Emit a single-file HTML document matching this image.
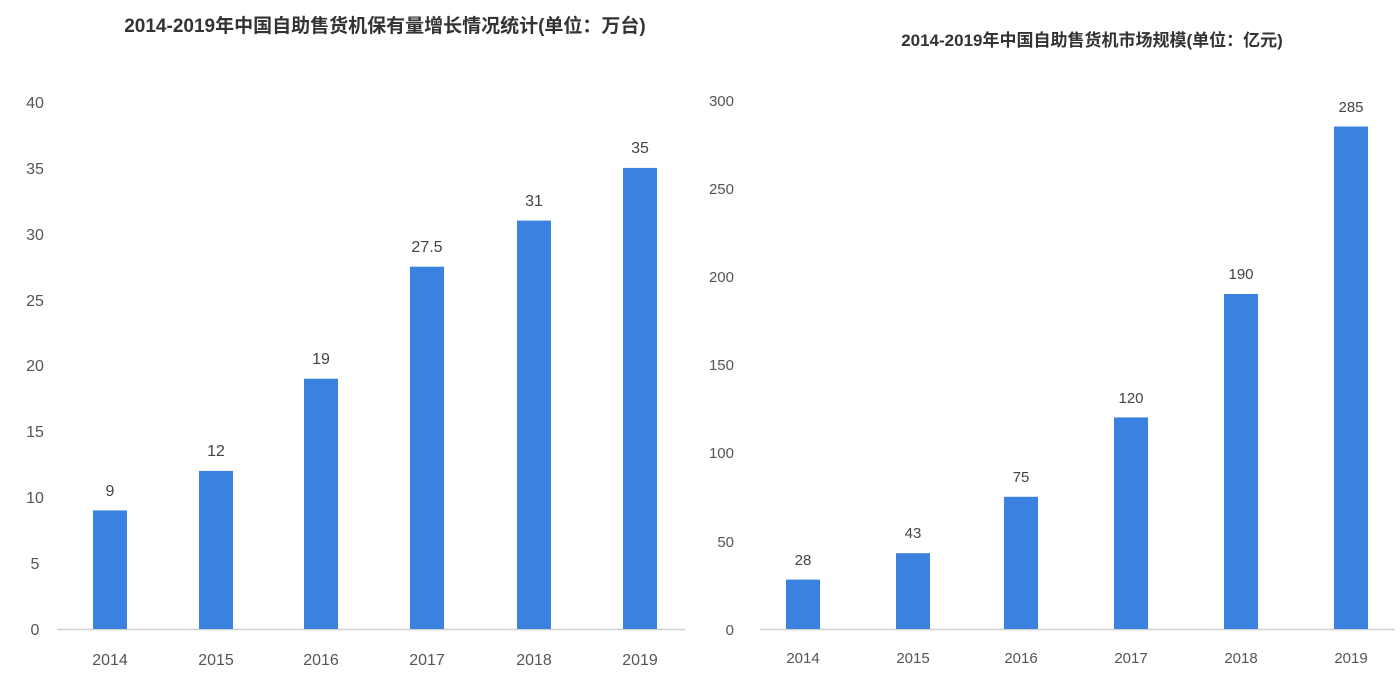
<!DOCTYPE html>
<html><head><meta charset="utf-8"><style>
html,body{margin:0;padding:0;background:#fff;}
svg{display:block;font-family:"Liberation Sans","Noto Sans CJK SC",sans-serif;}
</style></head><body>
<svg width="1400" height="700" viewBox="0 0 1400 700" xmlns="http://www.w3.org/2000/svg">
<rect width="1400" height="700" fill="#fff"/>
<text x="385" y="32" font-size="19" font-weight="bold" text-anchor="middle" fill="#333">2014-2019年中国自助售货机保有量增长情况统计(单位：万台)</text>
<text x="1092" y="46" font-size="17" font-weight="bold" text-anchor="middle" fill="#333">2014-2019年中国自助售货机市场规模(单位：亿元)</text>
<g font-size="16" fill="#555" text-anchor="middle">
<text x="35" y="635">0</text><text x="35" y="569">5</text><text x="35" y="503">10</text><text x="35" y="437">15</text><text x="35" y="371">20</text><text x="35" y="306">25</text><text x="35" y="240">30</text><text x="35" y="174">35</text><text x="35" y="108">40</text>
</g>
<line x1="57" y1="629.5" x2="685" y2="629.5" stroke="#d0d0d0" stroke-width="1.5"/>
<g fill="#3b82e0">
<rect x="93" y="510.4" width="34" height="118.6"/>
<rect x="199" y="470.9" width="34" height="158.1"/>
<rect x="304" y="378.7" width="34" height="250.3"/>
<rect x="410" y="266.7" width="34" height="362.3"/>
<rect x="517" y="220.6" width="34" height="408.4"/>
<rect x="623" y="167.9" width="34" height="461.1"/>
</g>
<g font-size="16" fill="#444" text-anchor="middle">
<text x="110" y="496">9</text><text x="216" y="456">12</text><text x="321" y="364">19</text><text x="427" y="252">27.5</text><text x="534" y="206">31</text><text x="640" y="153">35</text>
</g>
<g font-size="16" fill="#555" text-anchor="middle">
<text x="110" y="665">2014</text><text x="216" y="665">2015</text><text x="321" y="665">2016</text><text x="427" y="665">2017</text><text x="534" y="665">2018</text><text x="640" y="665">2019</text>
</g>
<g font-size="15" fill="#555" text-anchor="end">
<text x="734" y="635">0</text><text x="734" y="547">50</text><text x="734" y="458">100</text><text x="734" y="370">150</text><text x="734" y="282">200</text><text x="734" y="194">250</text><text x="734" y="106">300</text>
</g>
<line x1="760" y1="629.5" x2="1395" y2="629.5" stroke="#d0d0d0" stroke-width="1.5"/>
<g fill="#3b82e0">
<rect x="786" y="579.6" width="34" height="49.4"/>
<rect x="896" y="553.2" width="34" height="75.8"/>
<rect x="1004" y="496.8" width="34" height="132.2"/>
<rect x="1114" y="417.4" width="34" height="211.6"/>
<rect x="1224" y="294" width="34" height="335"/>
<rect x="1334" y="126.5" width="34" height="502.5"/>
</g>
<g font-size="15" fill="#444" text-anchor="middle">
<text x="803" y="565">28</text><text x="913" y="538">43</text><text x="1021" y="482">75</text><text x="1131" y="403">120</text><text x="1241" y="279">190</text><text x="1351" y="112">285</text>
</g>
<g font-size="15" fill="#555" text-anchor="middle">
<text x="803" y="663">2014</text><text x="913" y="663">2015</text><text x="1021" y="663">2016</text><text x="1131" y="663">2017</text><text x="1241" y="663">2018</text><text x="1351" y="663">2019</text>
</g>
</svg>
</body></html>
